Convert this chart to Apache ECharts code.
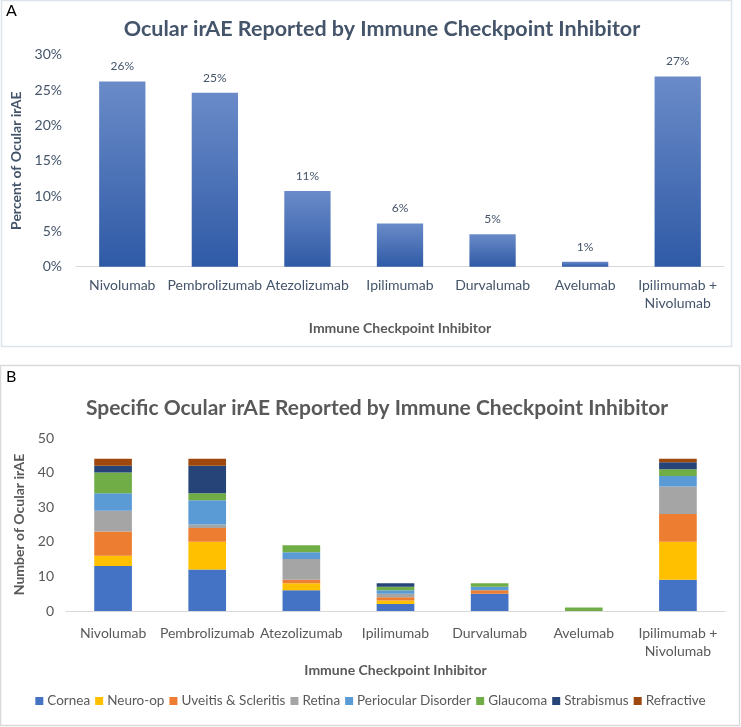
<!DOCTYPE html>
<html>
<head>
<meta charset="utf-8">
<script src="https://cdn.jsdelivr.net/npm/echarts@6/dist/echarts.min.js"></script>
<style>
html,body{margin:0;padding:0;background:#fff;}
#c{width:741px;height:727px;}
</style>
</head>
<body>
<div id="c"></div>
<script>
// ---- Data ----
const categories = ['Nivolumab','Pembrolizumab','Atezolizumab','Ipilimumab','Durvalumab','Avelumab','Ipilimumab +\nNivolumab'];
const percentValues = [26.2, 24.6, 10.7, 6.1, 4.6, 0.7, 26.9];
const percentTicks = [0, 5, 10, 15, 20, 25, 30];
const countTicks = [0, 10, 20, 30, 40, 50];

const seriesNames = ['Cornea','Neuro-op','Uveitis & Scleritis','Retina','Periocular Disorder','Glaucoma','Strabismus','Refractive'];
const cornea     = [13, 12, 6, 2, 5, 0, 9];
const neuroOp    = [3, 8, 2, 1, 0, 0, 11];
const uveitis    = [7, 4, 1, 1, 1, 0, 8];
const retina     = [6, 1, 6, 1, 0, 0, 8];
const periocular = [5, 7, 2, 1, 1, 0, 3];
const glaucoma   = [6, 2, 2, 1, 1, 1, 2];
const strabismus = [2, 8, 0, 1, 0, 0, 2];
const refractive = [2, 2, 0, 0, 0, 0, 1];
const stackValues = [cornea, neuroOp, uveitis, retina, periocular, glaucoma, strabismus, refractive];
const colors = ['#4472C4','#FFC000','#ED7D31','#A5A5A5','#5B9BD5','#70AD47','#264478','#9E480E'];

const FONT = 'Lato';
const chart = echarts.init(document.getElementById('c'), null, {renderer:'canvas'});

const stackSeries = seriesNames.map((n, i) => ({
  name: n, type: 'bar', stack: 'total', xAxisIndex: 1, yAxisIndex: 1,
  barWidth: '40%',
  itemStyle: {color: colors[i]},
  data: stackValues[i].map(v => v === 0 ? null : v)
}));

chart.setOption({
  animation: false,
  textStyle: {fontFamily: FONT},
  graphic: [
    {type:'rect', shape:{x:1.5, y:0.5, width:730, height:346}, style:{fill:'none', stroke:'#dde3ea', lineWidth:1.5}},
    {type:'rect', shape:{x:0.5, y:365.5, width:739, height:360}, style:{fill:'none', stroke:'#d9d9d9', lineWidth:1.5}},
    {type:'text', left:6, top:3, style:{text:'A', font:'16px Lato', fill:'#000'}},
    {type:'text', left:6, top:369, style:{text:'B', font:'16px Lato', fill:'#000'}}
  ],
  title: [
    {text:'Ocular irAE Reported by Immune Checkpoint Inhibitor', left:377, textAlign:'center', top:13,
     textStyle:{fontFamily:FONT, fontSize:21.5, fontWeight:'bold', color:'#44546A'}},
    {text:'Specific Ocular irAE Reported by Immune Checkpoint Inhibitor', left:372, textAlign:'center', top:393,
     textStyle:{fontFamily:FONT, fontSize:21, fontWeight:'bold', color:'#595959'}}
  ],
  legend: {
    data: seriesNames, bottom: 14, left: 'center', itemWidth: 8, itemHeight: 8, itemGap: 5,
    icon: 'rect', textStyle: {fontFamily: FONT, fontSize: 13.5, color: '#595959', padding:[0,0,0,-1]}
  },
  grid: [
    {left: 76, right: 17, top: 54.7, height: 212, containLabel: false},
    {left: 66, right: 16, top: 438, height: 173, containLabel: false}
  ],
  xAxis: [
    {type:'category', gridIndex:0, data: categories,
     axisLine:{lineStyle:{color:'#d9d9d9'}}, axisTick:{show:false},
     axisLabel:{color:'#44546A', fontSize:14, fontFamily:FONT, margin:10, lineHeight:18, interval:0},
     name:'Immune Checkpoint Inhibitor', nameLocation:'middle', nameGap:55,
     nameTextStyle:{color:'#595959', fontSize:14, fontWeight:'bold', fontFamily:FONT}},
    {type:'category', gridIndex:1, data: categories,
     axisLine:{lineStyle:{color:'#d9d9d9'}}, axisTick:{show:false},
     axisLabel:{color:'#595959', fontSize:14, fontFamily:FONT, margin:13, lineHeight:18, interval:0},
     name:'Immune Checkpoint Inhibitor', nameLocation:'middle', nameGap:52,
     nameTextStyle:{color:'#595959', fontSize:14, fontWeight:'bold', fontFamily:FONT}}
  ],
  yAxis: [
    {type:'value', gridIndex:0, min: percentTicks[0], max: percentTicks[percentTicks.length-1], interval: 5,
     splitLine:{show:false}, axisLine:{show:false}, axisTick:{show:false},
     axisLabel:{color:'#44546A', fontSize:14, fontFamily:FONT, margin:14, formatter: v => v + '%'},
     name:'Percent of Ocular irAE', nameLocation:'middle', nameGap:46,
     nameTextStyle:{color:'#44546A', fontSize:14, fontWeight:'bold', fontFamily:FONT}},
    {type:'value', gridIndex:1, min: countTicks[0], max: countTicks[countTicks.length-1], interval: 10,
     splitLine:{show:false}, axisLine:{show:false}, axisTick:{show:false},
     axisLabel:{color:'#595959', fontSize:14, fontFamily:FONT, margin:12},
     name:'Number of Ocular irAE', nameLocation:'middle', nameGap:38,
     nameTextStyle:{color:'#595959', fontSize:14, fontWeight:'bold', fontFamily:FONT}}
  ],
  series: [
    {type:'bar', xAxisIndex:0, yAxisIndex:0, barWidth:'50%', data: percentValues,
     itemStyle:{color: new echarts.graphic.LinearGradient(0,0,0,1,[{offset:0,color:'#6A8BC8'},{offset:1,color:'#2F5AA6'}])},
     label:{show:true, position:'top', distance:9, color:'#44546A', fontSize:12, fontFamily:FONT,
            formatter: p => Math.round(p.value) + '%'}},
    ...stackSeries
  ]
});
</script>
</body>
</html>
